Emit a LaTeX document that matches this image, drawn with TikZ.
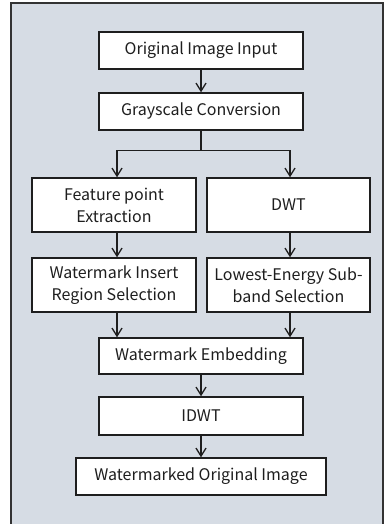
\documentclass[tikz,border=0pt]{standalone}
\usepackage{fontspec}
\setmainfont{Noto Sans CJK KR}
\usetikzlibrary{arrows.meta,calc}
\definecolor{panel}{HTML}{D6DCE4}
\definecolor{ink}{HTML}{1E1E1E}
\tikzset{
  stepbox/.style={draw=ink, line width=1.4pt, fill=white, rectangle,
    inner sep=0pt, align=center, font=\fontsize{16}{22}\selectfont, text=ink},
  flow/.style={draw=ink, line width=1.4pt, -{Straight Barb[length=8pt,width=10pt,line width=1.3pt]}},
  link/.style={draw=ink, line width=1.4pt}
}
\begin{document}
\begin{tikzpicture}[x=1pt,y=-1pt]
  \useasboundingbox (0,0) rectangle (385,524);
  % panel behind the flow chart
  \fill[panel] (11,3) rectangle (383,524);
  \draw[line width=1.4pt, draw=black!80] (11,524) -- (11,3) -- (383,3) -- (383,524);

  \node[stepbox, minimum width=204pt, minimum height=37pt] (input) at (201,50.5) {Original Image Input};
  \node[stepbox, minimum width=204pt, minimum height=37pt] (gray) at (201,111.5) {Grayscale Conversion};
  \node[stepbox, minimum width=164pt, minimum height=54pt] (feat) at (114,205) {Feature point\\Extraction};
  \node[stepbox, minimum width=163pt, minimum height=54pt] (dwt) at (288.5,205) {DWT};
  \node[stepbox, minimum width=164pt, minimum height=54pt] (region) at (114,285) {Watermark Insert\\Region Selection};
  \node[stepbox, minimum width=163pt, minimum height=54pt] (band) at (288.5,285) {Lowest-Energy Sub-\\band Selection};
  \node[stepbox, minimum width=204pt, minimum height=36pt] (embed) at (201,356) {Watermark Embedding};
  \node[stepbox, minimum width=204pt, minimum height=38pt] (idwt) at (201,416) {IDWT};
  \node[stepbox, minimum width=250pt, minimum height=37pt] (out) at (201,476.5) {Watermarked Original Image};

  % columns carrying the two branches
  \coordinate (lcol) at (117,0);
  \coordinate (rcol) at (290,0);
  \coordinate (split) at (201,150.5);

  \draw[flow] (input) -- (gray);
  \draw[link] (gray.south) -- (split);
  \draw[flow] (split) -| (feat.north -| lcol);
  \draw[flow] (split) -| (dwt.north -| rcol);
  \draw[flow] (feat.south -| lcol) -- (region.north -| lcol);
  \draw[flow] (dwt.south -| rcol) -- (band.north -| rcol);
  \draw[flow] (region.south -| lcol) -- (embed.north -| lcol);
  \draw[flow] (band.south -| rcol) -- (embed.north -| rcol);
  \draw[flow] (embed) -- (idwt);
  \draw[flow] (idwt) -- (out);
\end{tikzpicture}
\end{document}
